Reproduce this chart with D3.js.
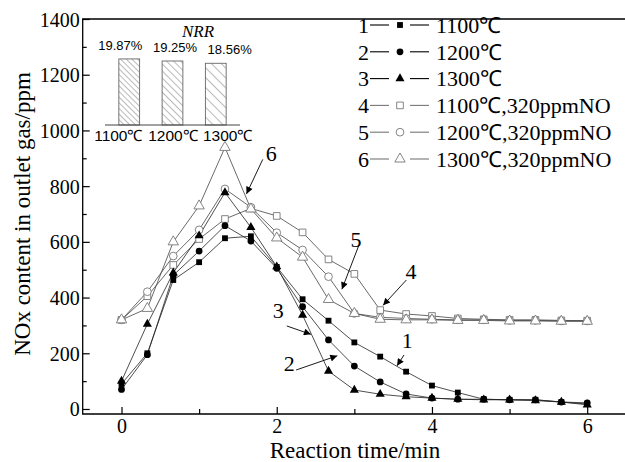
<!DOCTYPE html>
<html>
<head>
<meta charset="utf-8">
<script src="https://cdn.jsdelivr.net/npm/d3@7"></script>
<style>
body { margin: 0; background: #fff; }
svg text { font-family: "Liberation Serif", "Times New Roman", serif; }
</style>
</head>
<body>
<div id="chart"></div>
<script>
let WIDTH = 625
let HEIGHT = 462

// reaction time (min), one sample every 20 s
let times = [0, 0.333, 0.667, 1, 1.333, 1.667, 2, 2.333, 2.667, 3, 3.333, 3.667, 4, 4.333, 4.667, 5, 5.333, 5.667, 6]

// NOx (ppm) per run
let s1100 = [90, 200, 463, 527, 613, 620, 510, 394, 317, 239, 188, 134, 84, 59, 35, 33, 33, 25, 18]
let s1200 = [70, 195, 480, 567, 658, 603, 505, 367, 248, 154, 97, 54, 39, 35, 35, 33, 33, 25, 22]
let s1300 = [100, 305, 489, 622, 777, 652, 511, 337, 136, 68, 53, 44, 39, 35, 33, 33, 30, 25, 15]
let s1100no = [320, 405, 517, 610, 682, 720, 693, 634, 537, 485, 355, 341, 334, 325, 322, 320, 320, 318, 317]
let s1200no = [320, 421, 549, 643, 790, 724, 633, 571, 475, 343, 329, 325, 322, 320, 320, 318, 318, 316, 316]
let s1300no = [320, 361, 600, 729, 939, 718, 614, 545, 393, 343, 322, 320, 320, 318, 318, 316, 316, 315, 315]

let seriesNames = ['1100℃', '1200℃', '1300℃', '1100℃,320ppmNO', '1200℃,320ppmNO', '1300℃,320ppmNO']
let seriesData = [s1100, s1200, s1300, s1100no, s1200no, s1300no]
let seriesSymbols = ['square', 'circle', 'triangle', 'square', 'circle', 'triangle']
let seriesFilled = [true, true, true, false, false, false]

let xMajor = [0, 2, 4, 6]
let xMinor = [1, 3, 5]
let yMajor = [0, 200, 400, 600, 800, 1000, 1200, 1400]
let yMinor = [100, 300, 500, 700, 900, 1100, 1300]

// inset: NO reduction rate
let nrrCats = ['1100℃', '1200℃', '1300℃']
let nrrVals = [19.87, 19.25, 18.56]
let nrrLabels = ['19.87%', '19.25%', '18.56%']

// arrow callouts, in data units: label, label pos, arrow start, arrow end
let callouts = [
    { label: '1', at: [3.68, 245], from: [3.64, 194], to: [3.55, 155] },
    { label: '2', at: [2.16, 165], from: [2.25, 140], to: [2.78, 191] },
    { label: '3', at: [2.02, 355], from: [2.13, 298], to: [2.44, 268] },
    { label: '4', at: [3.73, 495], from: [3.67, 463], to: [3.37, 372] },
    { label: '5', at: [3.02, 608], from: [3.06, 589], to: [2.84, 430] },
    { label: '6', at: [1.93, 918], from: [1.82, 896], to: [1.61, 772] }
]

let svg = d3.select('#chart')
    .append('svg')
    .attr('width', WIDTH)
    .attr('height', HEIGHT)

let x = d3.scaleLinear().domain([-0.5, 6.5]).range([82.7, 626])
let y = d3.scaleLinear().domain([-18, 1400]).range([414, 19])

// frame
svg.append('path')
    .attr('d', `M${x(6.6)},${y(1400)}H${x(-0.5)}V${y(-18)}H${x(6.6)}`)
    .attr('fill', 'none')
    .attr('stroke', '#000')
    .attr('stroke-width', 1.3)

// axes, ticks inward
let yAxis = svg.append('g').attr('transform', `translate(${x(-0.5)},0)`)
    .call(d3.axisLeft(y).tickValues(yMajor).tickSize(-7).tickPadding(4).tickFormat(d3.format('d')))
let yAxisMinor = svg.append('g').attr('transform', `translate(${x(-0.5)},0)`)
    .call(d3.axisLeft(y).tickValues(yMinor).tickSize(-4).tickFormat(''))
let xAxis = svg.append('g').attr('transform', `translate(0,${y(-18)})`)
    .call(d3.axisBottom(x).tickValues(xMajor).tickSize(-7).tickPadding(5).tickFormat(d3.format('d')))
let xAxisMinor = svg.append('g').attr('transform', `translate(0,${y(-18)})`)
    .call(d3.axisBottom(x).tickValues(xMinor).tickSize(-5).tickFormat(''))

svg.selectAll('.domain').remove()
svg.selectAll('.tick line').attr('stroke', '#000').attr('stroke-width', 1.2)
svg.selectAll('.tick text')
    .style('font-family', '"Liberation Serif", serif')
    .style('font-size', '20px')
    .attr('fill', '#000')
yAxis.selectAll('.tick text').attr('dy', '0.35em').attr('x', -3)
xAxis.selectAll('.tick text').attr('y', 5).attr('dy', '0.71em')

svg.append('text')
    .attr('x', 355)
    .attr('y', 458)
    .attr('text-anchor', 'middle')
    .style('font-size', '23px')
    .text('Reaction time/min')

svg.append('text')
    .attr('transform', `translate(30,${y(700)}) rotate(-90)`)
    .attr('text-anchor', 'middle')
    .style('font-size', '23px')
    .text('NOx content in outlet gas/ppm')

// markers
let symbolSize = { square: 34, circle: 36, triangle: 36 }
let symbolType = { square: d3.symbolSquare, circle: d3.symbolCircle, triangle: d3.symbolTriangle }

let drawMarker = function(g, i, px, py) {
    let sym = seriesSymbols[i]
    let size = seriesFilled[i] ? symbolSize[sym] : symbolSize[sym] * 1.3
    g.append('path')
        .attr('transform', `translate(${px},${py})`)
        .attr('d', d3.symbol().type(symbolType[sym]).size(size)())
        .attr('fill', seriesFilled[i] ? '#000' : '#fff')
        .attr('stroke', seriesFilled[i] ? 'none' : '#777')
        .attr('stroke-width', 0.9)
}

let line = d3.line()
    .x((d, j) => x(times[j]))
    .y(d => y(d))

// open series first, filled on top
let order = [3, 4, 5, 0, 1, 2]
order.forEach(i => {
    svg.append('path')
        .datum(seriesData[i])
        .attr('d', line)
        .attr('fill', 'none')
        .attr('stroke', seriesFilled[i] ? '#222' : '#444')
        .attr('stroke-width', 0.8)
})
order.forEach(i => {
    let g = svg.append('g')
    seriesData[i].forEach((v, j) => drawMarker(g, i, x(times[j]), y(v)))
})

// callouts
svg.append('defs').append('marker')
    .attr('id', 'arrow')
    .attr('viewBox', '0 0 10 10')
    .attr('refX', 10)
    .attr('refY', 5)
    .attr('markerWidth', 9)
    .attr('markerHeight', 7)
    .attr('markerUnits', 'userSpaceOnUse')
    .attr('orient', 'auto')
    .append('path')
    .attr('d', 'M0,0L10,5L0,10Z')
    .attr('fill', '#000')

callouts.forEach(c => {
    svg.append('line')
        .attr('x1', x(c.from[0])).attr('y1', y(c.from[1]))
        .attr('x2', x(c.to[0])).attr('y2', y(c.to[1]))
        .attr('stroke', '#000')
        .attr('stroke-width', 0.9)
        .attr('marker-end', 'url(#arrow)')
    svg.append('text')
        .attr('x', x(c.at[0]))
        .attr('y', y(c.at[1]))
        .attr('text-anchor', 'middle')
        .attr('dy', '0.35em')
        .style('font-size', '22px')
        .text(c.label)
})

// legend
let legend = svg.append('g')
seriesNames.forEach((name, i) => {
    let ly = 25 + i * 26.8
    let row = legend.append('g')
    row.append('text')
        .attr('x', 358).attr('y', ly).attr('dy', '0.35em')
        .style('font-size', '22px')
        .text(i + 1)
    row.append('line')
        .attr('x1', 370).attr('x2', 389).attr('y1', ly).attr('y2', ly)
        .attr('stroke', seriesFilled[i] ? '#000' : '#777').attr('stroke-width', 1.1)
    row.append('line')
        .attr('x1', 410).attr('x2', 429).attr('y1', ly).attr('y2', ly)
        .attr('stroke', seriesFilled[i] ? '#000' : '#777').attr('stroke-width', 1.1)
    drawMarker(row, i, 400, ly)
    row.append('text')
        .attr('x', 436).attr('y', ly).attr('dy', '0.35em')
        .style('font-size', '22px')
        .text(name)
})

// inset bar chart
let inset = svg.append('g')
let ix = d3.scaleBand().domain(nrrCats).range([105, 240]).paddingInner(0.52).paddingOuter(0.32)
let iy = d3.scaleLinear().domain([0, 20]).range([125, 58.5])
// text labels in the inset are spread wider than the bars
let ixText = d3.scaleBand().domain(nrrCats).range([91, 255])

let hatchGap = [4, 5, 7]
let defs = svg.select('defs')
nrrCats.forEach((c, i) => {
    let p = defs.append('pattern')
        .attr('id', 'hatch' + i)
        .attr('patternUnits', 'userSpaceOnUse')
        .attr('width', hatchGap[i])
        .attr('height', hatchGap[i])
        .attr('patternTransform', 'rotate(45)')
    p.append('line')
        .attr('x1', 0).attr('x2', hatchGap[i]).attr('y1', 0).attr('y2', 0)
        .attr('stroke', '#666').attr('stroke-width', 0.9)
})

inset.selectAll('rect')
    .data(nrrVals)
    .join('rect')
    .attr('x', (d, i) => ix(nrrCats[i]))
    .attr('y', d => iy(d))
    .attr('width', ix.bandwidth())
    .attr('height', d => iy(0) - iy(d))
    .attr('fill', (d, i) => `url(#hatch${i})`)
    .attr('stroke', '#666')
    .attr('stroke-width', 0.9)

inset.append('line')
    .attr('x1', 105).attr('x2', 240).attr('y1', iy(0)).attr('y2', iy(0))
    .attr('stroke', '#444').attr('stroke-width', 1)

inset.selectAll('.val')
    .data(nrrLabels)
    .join('text')
    .attr('class', 'val')
    .attr('x', (d, i) => ixText(nrrCats[i]) + ixText.bandwidth() / 2 + 2)
    .attr('y', (d, i) => iy(nrrVals[i]) - 9)
    .attr('text-anchor', 'middle')
    .style('font-family', '"Liberation Sans", Arial, sans-serif')
    .style('font-size', '13px')
    .text(d => d)

inset.selectAll('.cat')
    .data(nrrCats)
    .join('text')
    .attr('class', 'cat')
    .attr('x', d => ixText(d) + ixText.bandwidth() / 2)
    .attr('y', 141)
    .attr('text-anchor', 'middle')
    .style('font-family', '"Liberation Sans", Arial, sans-serif')
    .style('font-size', '15.5px')
    .text(d => d)

inset.append('text')
    .attr('x', 198)
    .attr('y', 37)
    .attr('text-anchor', 'middle')
    .style('font-size', '17px')
    .style('font-style', 'italic')
    .text('NRR')
</script>
</body>
</html>
